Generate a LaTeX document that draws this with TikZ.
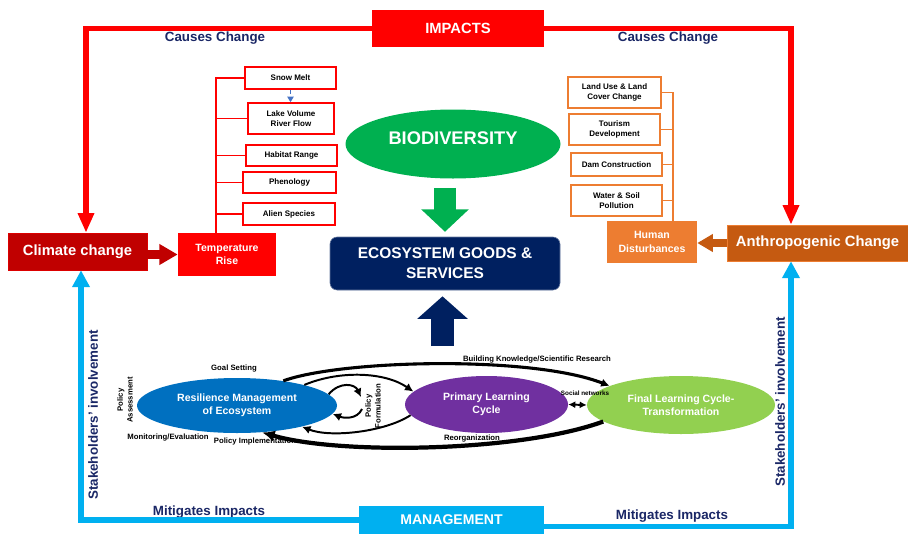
\documentclass[tikz,border=0pt]{standalone}
\usepackage{fontspec}
\setmainfont{Liberation Sans}
\usetikzlibrary{arrows.meta,shapes.geometric}

\definecolor{impred}{HTML}{FF0000}
\definecolor{climred}{HTML}{C00000}
\definecolor{biogreen}{HTML}{00B050}
\definecolor{econavy}{HTML}{002060}
\definecolor{humorange}{HTML}{ED7D31}
\definecolor{anthbrown}{HTML}{C55A11}
\definecolor{mgmtcyan}{HTML}{00B0F0}
\definecolor{rmeblue}{HTML}{0070C0}
\definecolor{plcpurple}{HTML}{7030A0}
\definecolor{flcgreen}{HTML}{92D050}
\definecolor{labnavy}{HTML}{1A2766}
\definecolor{snowblue}{HTML}{4472C4}

\newcommand{\pxl}{0.025cm}

\tikzset{
  bigbox/.style={rectangle, inner sep=0pt, text=white, align=center, font=\fontsize{10.5}{12}\selectfont\bfseries},
  redleaf/.style={rectangle, draw=impred, line width=1.1pt, fill=white, inner sep=0pt, align=center, font=\fontsize{5.7}{6.7}\selectfont\bfseries},
  orangeleaf/.style={redleaf, draw=humorange},
  cyclelipse/.style={ellipse, inner sep=0pt, text=white, align=center, font=\fontsize{7.5}{9.5}\selectfont\bfseries},
  sidelabel/.style={text=labnavy, inner sep=0pt, font=\fontsize{9.5}{11}\selectfont\bfseries},
  steplabel/.style={inner sep=0pt, align=center, font=\fontsize{5.5}{7}\selectfont\bfseries},
  impline/.style={impred, line width=4.2pt, -{Triangle[length=14pt,width=11pt]}},
  mgmtline/.style={mgmtcyan, line width=4pt, -{Triangle[length=12pt,width=12pt]}},
  redtrunk/.style={impred, line width=1.4pt},
  orangetrunk/.style={humorange, line width=1.4pt},
  cycarrow/.style={line width=1.4pt, -{Latex[length=6pt,width=6pt]}},
}

\begin{document}
\begin{tikzpicture}[x=\pxl, y=-\pxl]
    \useasboundingbox (0,0) rectangle (908,534);

    % top and bottom bars
    \node[bigbox, fill=impred, minimum width=172*\pxl, minimum height=37*\pxl] (impacts) at (458,28.5) {IMPACTS};
    \node[bigbox, fill=mgmtcyan, minimum width=185*\pxl, minimum height=28*\pxl, font=\fontsize{10}{12}\selectfont\bfseries] (mgmt) at (451.5,520) {MANAGEMENT};
    \node[sidelabel] (causesL) at (215,38) {Causes Change};
    \node[sidelabel] (causesR) at (668,38) {Causes Change};
    \node[sidelabel] (mitigL) at (209,512) {Mitigates Impacts};
    \node[sidelabel] (mitigR) at (672,516) {Mitigates Impacts};
    \node[sidelabel, rotate=90] (stakeL) at (93,415) {Stakeholders’ involvement};
    \node[sidelabel, rotate=90] (stakeR) at (780,402) {Stakeholders’ involvement};

    % drivers
    \node[bigbox, fill=climred, draw=impred!45!climred, minimum width=139*\pxl, minimum height=37*\pxl] (climate) at (77.5,251.5) {Climate change};
    \node[bigbox, fill=impred, minimum width=98*\pxl, minimum height=43*\pxl, font=\fontsize{7.5}{9.5}\selectfont\bfseries] (temp) at (227,254.5) {Temperature\\Rise};
    \node[bigbox, fill=anthbrown, draw=humorange, minimum width=181*\pxl, minimum height=36*\pxl] (anthro) at (817.5,243) {Anthropogenic Change};
    \node[bigbox, fill=humorange, minimum width=90*\pxl, minimum height=42*\pxl, font=\fontsize{7.5}{9.5}\selectfont\bfseries] (human) at (652,242) {Human\\Disturbances};

    % temperature effects
    \node[redleaf, minimum width=91*\pxl, minimum height=22*\pxl] (snow) at (290.5,78) {Snow Melt};
    \node[redleaf, minimum width=86*\pxl, minimum height=31*\pxl] (lake) at (291,118.5) {Lake Volume\\River Flow};
    \node[redleaf, minimum width=91*\pxl, minimum height=21*\pxl] (habitat) at (291.5,155.5) {Habitat Range};
    \node[redleaf, minimum width=93*\pxl, minimum height=21*\pxl] (phen) at (289.5,182.5) {Phenology};
    \node[redleaf, minimum width=92*\pxl, minimum height=22*\pxl] (alien) at (289,214) {Alien Species};

    % human disturbances
    \node[orangeleaf, minimum width=93*\pxl, minimum height=31*\pxl] (landuse) at (614.5,92.5) {Land Use \& Land\\Cover Change};
    \node[orangeleaf, minimum width=91*\pxl, minimum height=31*\pxl] (tourism) at (614.5,129.5) {Tourism\\Development};
    \node[orangeleaf, minimum width=91*\pxl, minimum height=23*\pxl] (dam) at (616.5,164.5) {Dam Construction};
    \node[orangeleaf, minimum width=91*\pxl, minimum height=31*\pxl] (water) at (616.5,200.5) {Water \& Soil\\Pollution};

    % centre
    \node[ellipse, fill=biogreen, inner sep=0pt, minimum width=215*\pxl, minimum height=69*\pxl, text depth=8.5pt, text=white, font=\fontsize{13}{15}\selectfont\bfseries] (bio) at (453,144) {BIODIVERSITY};
    \node[rectangle, rounded corners=5pt, fill=econavy, draw=econavy!60, inner sep=0pt, minimum width=230*\pxl, minimum height=53*\pxl, text=white, align=center, font=\fontsize{11}{14}\selectfont\bfseries] (eco) at (445,263.5) {ECOSYSTEM GOODS \&\\SERVICES};
    \coordinate (ecofoot) at (442.5,346);

    % learning cycle
    \node[cyclelipse, fill=rmeblue, minimum width=200*\pxl, minimum height=55*\pxl] (rme) at (237,405.5) {Resilience Management\\of Ecosystem};
    \node[cyclelipse, fill=plcpurple, minimum width=163*\pxl, minimum height=57*\pxl] (plc) at (486.5,404.5) {Primary Learning\\Cycle};
    \node[cyclelipse, fill=flcgreen, minimum width=188*\pxl, minimum height=58*\pxl] (flc) at (681,405) {Final Learning Cycle-\\Transformation};

    \node[steplabel] (goal) at (234,369) {Goal Setting};
    \node[steplabel, rotate=90] (passess) at (125,400) {Policy\\Assessment};
    \node[steplabel] (monitor) at (168,438) {Monitoring/Evaluation};
    \node[steplabel] (pimpl) at (255,441) {Policy Implementation};
    \node[steplabel, rotate=90] (pform) at (373,406) {Policy\\Formulation};
    \node[steplabel] (bknow) at (537,360) {Building Knowledge/Scientific Research};
    \node[steplabel, font=\fontsize{4.5}{5}\selectfont\bfseries] (social) at (585,393) {Social networks};
    \node[steplabel] (reorg) at (472,439) {Reorganization};
    \coordinate (pformin) at (361,397);
    \coordinate (pformout) at (362,409);

    % outer loop
    \coordinate (impL) at (86,0);
    \coordinate (impR) at (791,0);
    \coordinate (mgmL) at (81,0);
    \draw[impline] (impacts.west) -| (climate.north -| impL);
    \draw[impline] (impacts.east) -| (anthro.north -| impR);
    \draw[mgmtline] (mgmt.west) -| (climate.south -| mgmL);
    \draw[mgmtline] ([yshift=-4.5pt]mgmt.east) -| (anthro.south -| impR);

    % drivers to effects
    \draw[climred, line width=6.4pt, -{Triangle[length=13pt,width=14pt]}] (temp.west -| climate.east) -- (temp.west);
    \draw[anthbrown, line width=5pt, -{Triangle[length=11pt,width=12pt]}] (anthro.west) -- (anthro.west -| human.east);

    \coordinate (tsp) at (216,0);
    \draw[redtrunk] (temp.north -| tsp) |- (snow.west);
    \foreach \leaf in {lake,habitat,phen,alien}
        \draw[redtrunk] (\leaf.west -| tsp) -- (\leaf.west);
    \draw[snowblue, dashed, line width=1pt, -{Triangle[length=4pt,width=4.5pt]}] (snow.south) -- (snow.south |- lake.north);

    \coordinate (osp) at (673,0);
    \draw[orangetrunk] (human.north -| osp) |- (landuse.east);
    \foreach \leaf in {tourism,dam,water}
        \draw[orangetrunk] (\leaf.east -| osp) -- (\leaf.east);

    % block arrows
    \draw[biogreen, line width=16pt, shorten <=6.4pt, shorten >=3.5pt, -{Triangle[length=16pt,width=33pt]}] (eco.north |- bio.south) -- (eco.north);
    \draw[econavy, line width=17pt, shorten >=4.3pt, -{Triangle[length=16pt,width=35pt]}] (ecofoot) -- (ecofoot |- eco.south);

    % cycle connectors
    \draw[cycarrow, line width=2.2pt] (rme.28) .. controls (340,360) and (530,355) .. (flc.165);
    \draw[cycarrow] (rme.17) .. controls (340,370) and (385,372) .. (plc.170);
    \draw[cycarrow] (rme.7) .. controls (340,381) and (355,384) .. (pformin);
    \draw[cycarrow] (pformout) .. controls (357,420) and (343,418) .. (rme.-5);
    \draw[cycarrow] (plc.188) .. controls (385,432) and (330,438) .. (rme.-18);
    \draw[line width=3pt, -{Latex[length=9pt,width=8pt]}] (flc.192) .. controls (520,452) and (340,455) .. (rme.-47);
    \draw[line width=1.4pt, {Latex[length=5pt,width=5pt]}-{Latex[length=5pt,width=5pt]}] (plc.east) -- (flc.west);
\end{tikzpicture}
\end{document}
